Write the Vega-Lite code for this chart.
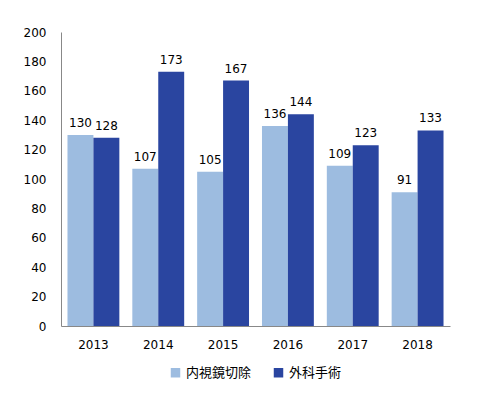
{
  "$schema": "https://vega.github.io/schema/vega-lite/v6.json",
  "width": 389,
  "height": 294,
  "autosize": "none",
  "padding": {"left": 61, "top": 32, "right": 34, "bottom": 73},
  "background": "white",
  "data": {"values": [
    {"year": "2013", "series": "内視鏡切除", "value": 130},
    {"year": "2013", "series": "外科手術", "value": 128},
    {"year": "2014", "series": "内視鏡切除", "value": 107},
    {"year": "2014", "series": "外科手術", "value": 173},
    {"year": "2015", "series": "内視鏡切除", "value": 105},
    {"year": "2015", "series": "外科手術", "value": 167},
    {"year": "2016", "series": "内視鏡切除", "value": 136},
    {"year": "2016", "series": "外科手術", "value": 144},
    {"year": "2017", "series": "内視鏡切除", "value": 109},
    {"year": "2017", "series": "外科手術", "value": 123},
    {"year": "2018", "series": "内視鏡切除", "value": 91},
    {"year": "2018", "series": "外科手術", "value": 133}
  ]},
  "encoding": {
    "x": {"field": "year", "type": "nominal",
      "scale": {"paddingInner": 0.2, "paddingOuter": 0.1},
      "axis": {"title": null, "labelAngle": 0, "ticks": false, "domainColor": "#888888", "labelPadding": 13, "labelFont": "DejaVu Sans", "labelFontSize": 12, "labelColor": "#000000", "labelFontWeight": "normal"}},
    "xOffset": {"field": "series", "type": "nominal", "sort": ["内視鏡切除", "外科手術"]},
    "y": {"field": "value", "type": "quantitative",
      "scale": {"domain": [0, 200], "nice": false},
      "axis": {"title": null, "grid": false, "ticks": false, "values": [0,20,40,60,80,100,120,140,160,180,200], "domainColor": "#888888", "labelPadding": 15, "labelFont": "DejaVu Sans", "labelFontSize": 12, "labelColor": "#000000", "labelFontWeight": "normal"}},
    "color": {"field": "series", "type": "nominal", "sort": ["内視鏡切除", "外科手術"],
      "scale": {"domain": ["内視鏡切除", "外科手術"], "range": ["#9DBCE0", "#2A45A0"]},
      "legend": {"title": null, "orient": "bottom", "direction": "horizontal", "symbolType": "square", "symbolSize": 90, "symbolStrokeWidth": 0, "labelFont": "Noto Sans CJK JP", "labelFontSize": 13, "labelColor": "#000000", "columnPadding": 20, "offset": 16}}
  },
  "layer": [
    {"mark": {"type": "bar"}},
    {"mark": {"type": "text", "baseline": "bottom", "dy": -5, "font": "DejaVu Sans", "fontSize": 12, "color": "#000000"},
     "encoding": {"text": {"field": "value", "type": "quantitative"}, "color": {"value": "#000000"}}}
  ],
  "config": {"view": {"stroke": null}, "legend": {"layout": {"bottom": {"anchor": "middle"}}}}
}
